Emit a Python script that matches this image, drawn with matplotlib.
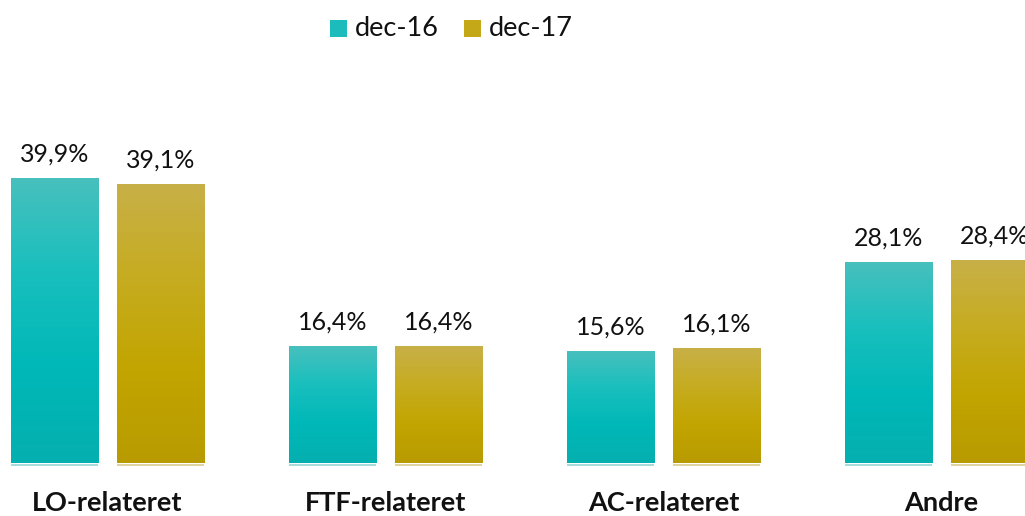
import numpy as np
import matplotlib
matplotlib.use("Agg")
import matplotlib.pyplot as plt
from matplotlib.colors import LinearSegmentedColormap
from matplotlib.patches import Rectangle

categories = ["LO-relateret", "FTF-relateret", "AC-relateret", "Andre"]
series_names = ["dec-16", "dec-17"]
dec16 = [39.9, 16.4, 15.6, 28.1]
dec17 = [39.1, 16.4, 16.1, 28.4]

plt.rcParams['font.family'] = ['Lato', 'DejaVu Sans']

W, H = 1025, 516
fig = plt.figure(figsize=(W / 100, H / 100), dpi=100)
px_per_unit = 7.12
base_px = 463
top_px = 60
bottom_px = 470
ax = fig.add_axes([0, (H - bottom_px) / H, 1, (bottom_px - top_px) / H])
ymin = -(bottom_px - base_px) / px_per_unit
ymax = (base_px - top_px) / px_per_unit
ax.set_ylim(ymin, ymax)
ax.set_xlim(-107.5 / 278, (1025 - 107.5) / 278)
ax.axis('off')

teal_cmap = LinearSegmentedColormap.from_list('t', ['#05afaf', '#00b8b8', '#18bfbd', '#47c0be'])
gold_cmap = LinearSegmentedColormap.from_list('g', ['#b89b00', '#c2a500', '#c6ac20', '#c8b048'])
light = {'t': '#a8dcdc', 'g': '#e0d4a0'}

x = np.arange(len(categories))
width = 0.313
offset = 0.19
grad = np.linspace(0, 1, 256).reshape(-1, 1)

for vals, cmap, sgn, lc in [(dec16, teal_cmap, -1, light['t']), (dec17, gold_cmap, 1, light['g'])]:
    for xi, v in zip(x, vals):
        cx = xi + sgn * offset
        x0, x1 = cx - width / 2, cx + width / 2
        ax.imshow(grad, cmap=cmap, extent=[x0, x1, 0, v], origin='lower',
                  aspect='auto', interpolation='bicubic', zorder=2)
        ax.add_patch(Rectangle((x0, -0.45), width, 0.25, color=lc, lw=0, zorder=1))
        ax.text(cx, v + 17 / px_per_unit, f"{v:.1f}".replace('.', ',') + "%", ha='center',
                va='baseline', fontsize=18, color='#111111')

for xi, c in zip(x, categories):
    fig.text((107.5 + 278 * xi) / W, 1 - 503 / H, c, ha='center', va='center',
             fontsize=19.5, fontweight='bold', color='#111111')

ax.set_xlim(-107.5 / 278, (1025 - 107.5) / 278)
ax.set_ylim(ymin, ymax)

# legend
for sx, tx, name, col in [(330, 355, series_names[0], '#1cbcbc'), (464, 489, series_names[1], '#c4a818')]:
    fig.patches.append(Rectangle((sx / W, 1 - 37 / H), 17 / W, 17 / H, transform=fig.transFigure,
                                 color=col, lw=0))
    fig.text(tx / W, 1 - 29 / H, name, ha='left', va='center', fontsize=19.5, color='#111111')

fig.savefig("out.png", dpi=100)
